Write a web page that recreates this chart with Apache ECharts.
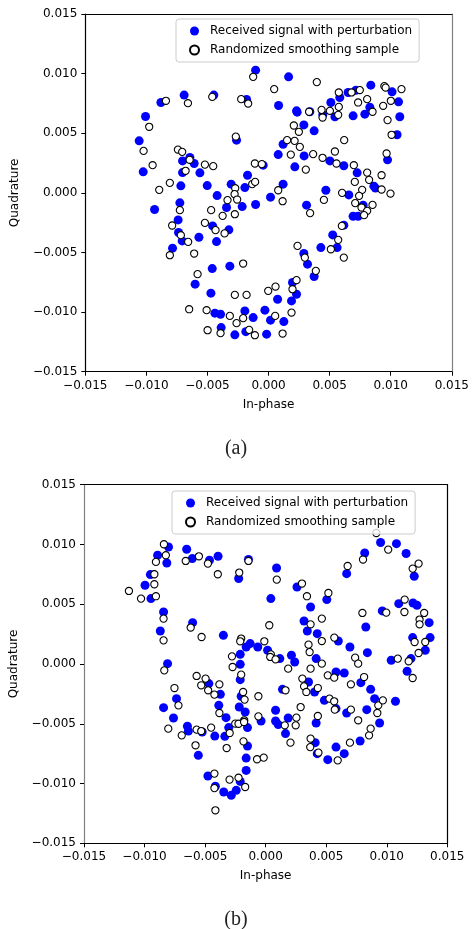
<!DOCTYPE html>
<html>
<head>
<meta charset="utf-8">
<script src="https://cdn.jsdelivr.net/npm/echarts@6/dist/echarts.min.js"></script>
<style>
  html, body { margin: 0; padding: 0; background: #fff; }
  #chart { width: 472px; height: 929px; }
</style>
</head>
<body>
<div id="chart"></div>
<script>
// values are in units of 1e-3 (axis labels show the real value)
const seriesNames = ['Received signal with perturbation', 'Randomized smoothing sample']

// (a) received signal with perturbation
const aReceived = [
  [-1.06, 10.29], [1.64, 9.73], [8.37, 9.03], [7.14, 8.6], [10.11, 8.47], [-8.81, 7.58], [-6.91, 8.2],
  [-4.48, 8.2], [-1.8, 7.83], [0.82, 7.33], [2.34, 6.77], [3.38, 6.8], [5.1, 7.58], [5.83, 8.0],
  [6.51, 8.42], [10.64, 7.63], [-10.07, 6.4], [6.92, 6.46], [7.88, 6.6], [10.74, 6.38], [8.29, 7.18],
  [5.43, 6.38], [4.44, 6.55],
  [-10.59, 4.36], [-10.26, 1.76], [-9.33, -1.4], [-7.18, 0.59], [-7.26, -0.84], [-7.4, -2.27],
  [-7.04, 2.68], [-7.04, 1.7], [-6.44, 2.96], [-6.09, 2.46], [-5.62, 1.68], [-5.02, 0.61],
  [-4.21, -0.23], [-3.44, -1.23], [-3.25, -3.1], [-4.58, -2.77], [-7.37, -3.33], [-5.7, -3.72],
  [-3.06, 0.73], [-2.62, 4.42], [-1.94, 0.44], [-1.72, 1.48], [-2.16, -1.15], [-1.06, -0.98],
  [-0.44, 2.32], [0.16, -0.36], [0.79, 3.21], [1.19, 0.73], [1.19, 4.08], [2.15, 2.18], [2.29, 6.88],
  [2.89, 5.7], [3.73, 5.2], [2.91, 3.1], [3.11, -1.03], [4.69, 0.22], [5.02, 2.68], [5.25, -3.53],
  [6.16, 2.27], [7.25, 1.68], [6.57, -0.17], [6.92, -1.96], [7.74, -1.03], [7.33, -1.96], [8.62, 0.56],
  [8.75, 0.4], [9.74, 2.77], [10.52, 4.87], [6.16, -2.71],
  [-7.86, -4.64], [-7.07, -4.03], [-4.26, -4.09], [-4.61, -6.35], [-3.17, -6.15], [-6.01, -7.66],
  [-4.72, -8.41], [-4.39, -10.09], [-3.93, -10.18], [-3.88, -11.3], [-2.76, -11.91], [-1.94, -9.9],
  [-1.86, -11.64], [-1.26, -10.46], [-0.3, -9.84], [-0.16, -11.85], [0.16, -10.68], [0.74, -8.92],
  [1.25, -10.8], [1.88, -9.06], [2.29, -8.5], [1.96, -7.52], [2.89, -5.09], [3.19, -5.98],
  [3.73, -7.02], [4.28, -4.59], [5.61, -4.59]
]

// (a) randomized smoothing sample
const aSmoothed = [
  [-8.4, 7.72], [-6.6, 7.52], [-4.61, 8.05], [-2.24, 7.86], [-1.67, 7.49], [-1.26, 9.73], [0.46, 8.7],
  [3.95, 9.29], [3.32, 6.8], [4.34, 6.96], [5.02, 6.88], [5.75, 8.42], [5.75, 7.21], [5.7, 6.54],
  [6.79, 8.42], [7.47, 8.62], [7.33, 7.58], [8.07, 7.86], [8.51, 6.8], [9.48, 8.95], [9.58, 8.83],
  [10.01, 7.72], [10.88, 8.7], [9.38, 7.3], [4.42, 6.32], [9.74, 6.1],
  [-9.77, 5.54], [-10.23, 3.52], [-9.49, 2.32], [-8.95, 0.25], [-8.08, 0.84], [-7.89, -2.74],
  [-7.42, 3.63], [-7.07, 3.44], [-6.79, 1.85], [-6.46, 2.77], [-7.26, -1.45], [-5.21, 2.37],
  [-4.53, 2.24], [-5.21, -2.52], [-4.7, -1.45], [-4.34, -3.13], [-3.76, -1.93], [-3.36, -0.61],
  [-3.6, -3.4], [-2.73, 0.39], [-2.78, -0.11], [-2.57, -0.56], [-2.76, -1.79], [-2.68, 4.72],
  [-1.34, 0.73], [-1.1, 0.92], [-1.12, 2.46], [-0.55, 2.41], [0.79, 0.22], [1.15, -0.7], [1.82, 3.21],
  [1.52, 4.42], [2.07, 5.65], [2.48, 5.12], [2.13, 4.36], [2.56, 3.86], [3.05, 1.95], [3.65, 3.25],
  [3.4, -1.7], [4.42, 2.94], [5.43, 3.47], [5.56, 2.46], [6.19, 4.42], [4.53, -0.59], [6.02, 0.0],
  [6.0, -2.77], [6.98, 2.32], [7.06, 0.92], [7.66, 0.25], [7.41, -0.25], [7.09, -0.86], [7.61, -1.23],
  [8.07, -1.51], [7.82, -1.87], [8.51, -1.01], [8.07, 1.7], [8.23, 1.09], [9.25, 1.48], [9.25, 0.28],
  [9.98, -0.06], [9.66, 3.3], [10.07, 4.87],
  [-7.18, -3.55], [-6.58, -4.11], [-8.08, -5.23], [-6.09, -5.09], [-5.81, -6.82], [-2.08, -5.93],
  [-6.5, -9.76], [-5.07, -9.84], [-3.17, -10.32], [-2.62, -10.93], [-2.08, -10.51], [-2.76, -8.56],
  [-1.8, -8.56], [-4.99, -11.52], [-3.93, -11.77], [-1.59, -11.49], [-1.12, -11.94], [-0.03, -8.22],
  [0.57, -7.86], [0.54, -10.32], [1.15, -11.8], [1.88, -10.04], [1.96, -8.08], [2.29, -7.32],
  [2.37, -4.45], [2.97, -5.43], [3.87, -6.54], [5.1, -4.73], [5.7, -3.94], [6.16, -5.43]
]

// (b) received signal with perturbation
const bReceived = [
  [-8.02, 9.79], [-8.92, 9.1], [-8.16, 8.45], [-9.52, 7.48], [-9.96, 6.59], [-9.47, 5.47], [-6.52, 9.6],
  [-6.06, 8.82], [-4.64, 8.68], [-3.93, 9.01], [-2.23, 7.15], [-1.42, 8.74], [0.9, 8.03], [2.59, 6.44],
  [0.43, 5.47], [5.05, 5.39], [6.69, 7.56], [8.18, 9.29], [9.49, 10.16], [10.8, 10.07], [11.6, 9.24],
  [12.27, 7.34],
  [-8.43, 4.35], [-8.7, 2.76], [-8.1, 0.03], [-8.43, -3.65], [-7.36, -2.9], [-7.61, -4.52],
  [-6.03, 3.46], [-3.49, 2.4], [-3.87, -3.46], [-3.74, -2.54], [-3.27, -4.49], [-4.69, -1.64],
  [-2.1, 0.81], [-2.1, -0.03], [-2.1, -1.31], [-2.02, -2.7], [-2.18, -3.6], [-1.69, -4.02],
  [-1.61, 1.42], [-1.28, 1.71], [-0.65, 1.42], [0.16, 1.15], [1.17, 0.45], [1.39, -2.12], [0.82, -3.87],
  [1.86, -4.52], [2.13, 0.73], [2.4, 0.17], [3.17, 3.6], [3.44, 2.76], [3.71, 4.77], [4.26, 2.54],
  [4.17, 0.45], [3.54, -1.51], [4.04, -2.34], [4.85, -3.04], [5.81, -0.67], [6.49, -0.75], [6.0, 1.92],
  [6.96, 1.42], [8.4, 0.95], [8.27, 3.1], [5.81, -3.73], [6.69, -4.1], [7.86, -1.56], [8.67, -2.12],
  [9.0, -2.9], [8.35, -3.82], [9.63, 4.44], [10.37, 0.31], [10.72, -3.12], [10.99, 5.05], [12.17, 5.1],
  [12.5, 4.91], [13.5, 3.46], [13.58, 2.21], [12.14, 2.21], [13.18, 1.15], [12.0, 0.45], [11.68, -0.61],
  [-6.46, -5.21], [-6.38, -5.61], [-5.24, -5.69], [-4.2, -6.03], [-5.56, -7.64], [-4.77, -9.37],
  [-4.15, -10.23], [-3.46, -10.71], [-2.84, -10.99], [-2.43, -10.57], [-2.1, -9.82], [-1.61, -8.9],
  [-1.61, -7.87], [-1.5, -6.86], [-1.5, -5.32], [-3.37, -6.05], [-3.05, -5.32], [-0.38, -4.77],
  [0.82, -4.77], [1.04, -5.07], [1.64, -5.82], [4.17, -4.94], [4.09, -6.58], [4.26, -7.5], [5.13, -8.0],
  [5.81, -6.95], [6.49, -7.5], [7.8, -6.44], [9.41, -4.94]
]

// (b) randomized smoothing sample
const bSmoothed = [
  [-8.4, 10.02], [-8.24, 9.1], [-9.06, 8.54], [-9.19, 7.51], [-9.19, 6.67], [-9.06, 5.67], [-10.29, 5.47],
  [-11.29, 6.11], [-6.6, 8.62], [-5.51, 9.01], [-4.77, 8.4], [-3.95, 7.51], [-2.18, 7.65], [-1.42, 8.62],
  [0.92, 7.06], [3.0, 6.73], [3.41, 5.67], [5.18, 5.94], [6.77, 8.2], [8.04, 8.74], [9.14, 10.96],
  [10.12, 9.57], [12.14, 7.98], [12.63, 8.4], [11.48, 5.39],
  [-8.43, 3.8], [-8.43, 1.98], [-8.37, -0.53], [-7.53, -2.01], [-7.2, -3.46], [-6.19, 3.05],
  [-5.29, 2.26], [-5.7, -1.0], [-5.32, -1.78], [-4.96, -1.22], [-4.75, -2.2], [-4.23, -2.56],
  [-3.82, -1.7], [-3.82, -4.1], [-2.78, 0.64], [-2.73, -0.25], [-2.02, 2.13], [-2.1, 1.9],
  [-2.02, -0.89], [-1.86, -2.34], [-1.74, -2.98], [-1.77, -4.71], [-0.6, -2.7], [-0.6, -4.38],
  [-0.11, 1.9], [0.3, 3.24], [0.43, 0.81], [0.38, 0.59], [0.82, 0.39], [1.86, -0.39], [1.64, -2.2],
  [2.89, -3.6], [2.54, -4.49], [3.71, 3.32], [3.54, 1.62], [3.63, 1.0], [3.71, -0.39], [4.64, 3.8],
  [4.64, 1.92], [4.64, 0.03], [3.03, -1.22], [3.17, -1.87], [3.36, -2.34], [4.31, -2.01], [5.13, -0.95],
  [5.27, -2.9], [5.66, -1.14], [5.66, -3.12], [5.71, -3.82], [5.67, 2.21], [7.04, -3.82], [7.04, -1.7],
  [7.39, 0.53], [7.64, 0.03], [8.13, -1.09], [7.99, 4.27], [9.3, -3.46], [9.22, -4.1], [9.68, -3.04],
  [9.96, 4.3], [10.91, 0.45], [11.46, 4.35], [13.09, 4.27], [12.71, 3.72], [12.71, 3.32], [12.3, 1.84],
  [13.18, 1.84], [12.63, 0.92], [11.81, 0.23], [12.14, -1.17],
  [-8.04, -5.41], [-6.93, -5.97], [-5.79, -6.8], [-5.7, -5.49], [-5.32, -5.61], [-4.5, -5.32],
  [-3.22, -7.03], [-2.97, -5.77], [-2.51, -4.99], [-2.24, -5.0], [-1.78, -4.85], [-1.83, -6.47],
  [-0.71, -7.97], [-0.16, -7.83], [1.58, -5.13], [2.48, -5.13], [2.05, -6.58], [4.31, -4.35],
  [3.71, -6.24], [3.68, -6.95], [4.36, -7.41], [5.95, -8.06], [6.96, -6.58], [7.64, -4.71],
  [8.54, -5.97], [8.67, -5.41], [-4.23, -9.17], [-2.98, -9.67], [-2.24, -9.51], [-4.23, -10.38],
  [-1.69, -10.29], [-4.15, -12.24]
]

const panelCaptions = ['(a)', '(b)']

const font = 'DejaVu Sans'

function tickLabel(v) {
  return (v / 1000).toFixed(3).replace('-', '\u2212')
}

function valueAxis(grid, pos, lineColor, main, name) {
  const isX = pos === 'bottom' || pos === 'top'
  return {
    type: 'value',
    gridIndex: grid,
    position: pos,
    min: -15,
    max: 15,
    interval: 5,
    name: main ? name : '',
    nameLocation: 'middle',
    nameGap: isX ? 27 : 64,
    nameTextStyle: { fontFamily: font, fontSize: 12, color: '#000' },
    axisLine: { show: true, onZero: false, lineStyle: { color: lineColor, width: 1.2 } },
    axisTick: { show: main, length: 4, lineStyle: { color: '#000', width: 1 } },
    axisLabel: {
      show: main,
      margin: isX ? 8 : 8,
      fontFamily: font,
      fontSize: 12,
      color: '#000',
      formatter: tickLabel
    },
    splitLine: { show: false }
  }
}

function legendAt(left, top) {
  return {
    data: seriesNames,
    orient: 'vertical',
    left: left,
    top: top,
    icon: 'circle',
    itemWidth: 9,
    itemHeight: 9,
    itemGap: 5,
    padding: [5, 7, 5, 13],
    borderColor: '#cccccc',
    borderWidth: 1,
    borderRadius: 3,
    backgroundColor: 'rgba(255,255,255,0.8)',
    selectedMode: false,
    textStyle: { fontFamily: font, fontSize: 12, color: '#000', lineHeight: 14, padding: [0, 0, 0, 6] }
  }
}

const received = { color: '#0000ff', opacity: 1 }
const smoothed = { color: '#ffffff', borderColor: '#000000', borderWidth: 1.1, opacity: 1 }

const chart = echarts.init(document.getElementById('chart'), null, { renderer: 'canvas' })
chart.setOption({
  animation: false,
  backgroundColor: '#fff',
  title: [
    { text: panelCaptions[0], left: 'center', top: 434, textStyle: { fontFamily: 'Liberation Serif', fontSize: 20, fontWeight: 'normal', color: '#222' } },
    { text: panelCaptions[1], left: 'center', top: 905, textStyle: { fontFamily: 'Liberation Serif', fontSize: 20, fontWeight: 'normal', color: '#222' } }
  ],
  legend: [legendAt(176, 19), legendAt(172, 491)],
  grid: [
    { left: 85.3, top: 14, width: 366.7, height: 357.7 },
    { left: 80.7, top: 484.7, width: 366.6, height: 358.6 }
  ],
  xAxis: [
    valueAxis(0, 'bottom', '#000', true, 'In-phase'),
    valueAxis(0, 'top', '#000', false),
    valueAxis(1, 'bottom', '#000', true, 'In-phase'),
    valueAxis(1, 'top', '#000', false)
  ],
  yAxis: [
    valueAxis(0, 'left', '#000', true, 'Quadrature'),
    valueAxis(0, 'right', '#808080', false),
    valueAxis(1, 'left', '#808080', true, 'Quadrature'),
    valueAxis(1, 'right', '#000', false)
  ],
  series: [
    { name: seriesNames[0], type: 'scatter', xAxisIndex: 0, yAxisIndex: 0, symbolSize: 9, itemStyle: received, data: aReceived },
    { name: seriesNames[1], type: 'scatter', xAxisIndex: 0, yAxisIndex: 0, symbolSize: 7.2, itemStyle: smoothed, data: aSmoothed },
    { name: seriesNames[0], type: 'scatter', xAxisIndex: 2, yAxisIndex: 2, symbolSize: 9, itemStyle: received, data: bReceived },
    { name: seriesNames[1], type: 'scatter', xAxisIndex: 2, yAxisIndex: 2, symbolSize: 7.2, itemStyle: smoothed, data: bSmoothed }
  ]
})
</script>
</body>
</html>
